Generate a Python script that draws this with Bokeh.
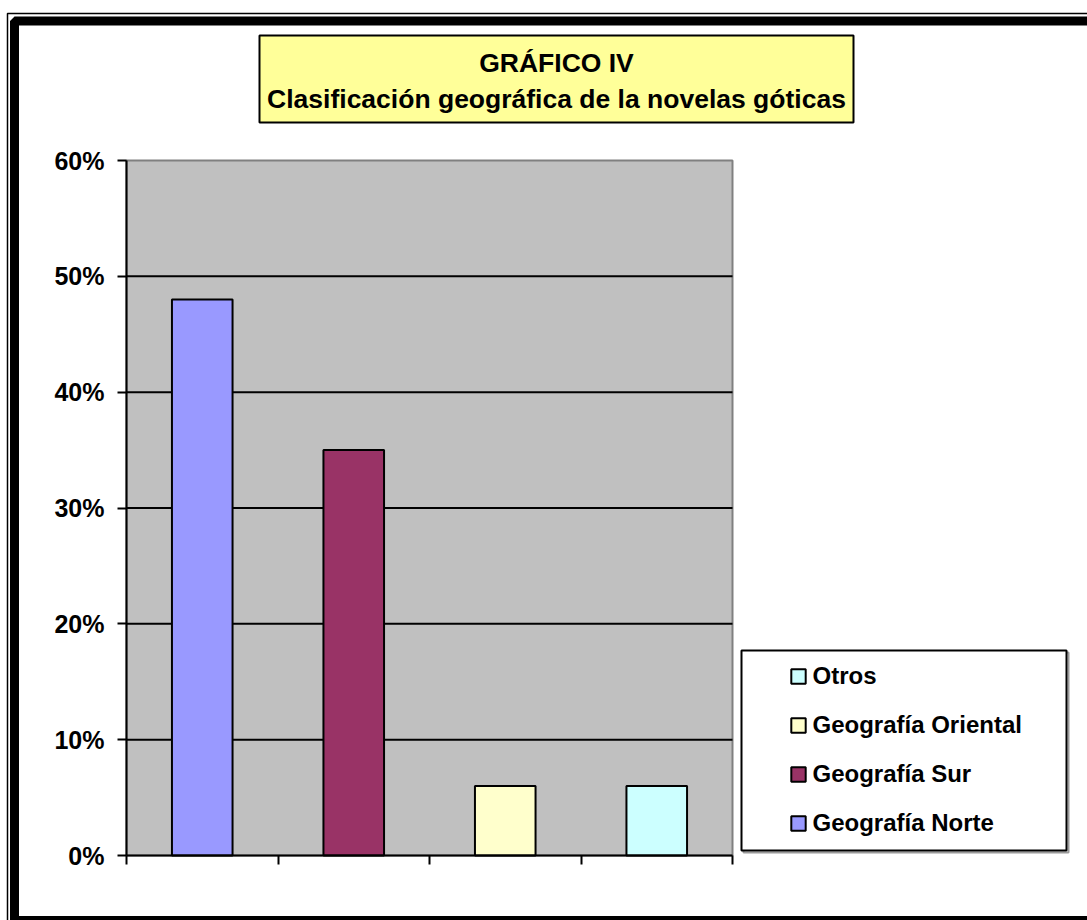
from bokeh.plotting import figure
from bokeh.models import (Range1d, FixedTicker, NumeralTickFormatter, BoxAnnotation, Label,
                          Legend, LegendItem, ColumnDataSource, CustomJSTickFormatter, LinearAxis)
from bokeh.embed import file_html
from bokeh.resources import INLINE

# ---- data ----
categories = ["Geografía Norte", "Geografía Sur", "Geografía Oriental", "Otros"]
values = [0.48, 0.35, 0.06, 0.06]
colors = ["#9999FF", "#993366", "#FFFFCC", "#CCFFFF"]
y_ticks = [0.0, 0.1, 0.2, 0.3, 0.4, 0.5, 0.6]
title_lines = ["GRÁFICO IV", "Clasificación geográfica de la novelas góticas"]

FONT = "Liberation Sans"
W, H = 1087, 920
# plot-area edges on the canvas (pixels)
PL, PR, PT, PB = 126, 732, 160, 855
n = len(categories)
YMAX = y_ticks[-1]

# the frame covers the whole canvas; ranges chosen so that the plot area sits at PL..PR / PT..PB
xpx = (PR - PL) / n
ypx = (PB - PT) / YMAX
x_range = Range1d(-PL / xpx, n + (W - PR) / xpx)
y_range = Range1d(-(H - PB) / ypx, YMAX + PT / ypx)

p = figure(width=W, height=H, output_backend="svg", toolbar_location=None,
           x_range=x_range, y_range=y_range, x_axis_type=None, y_axis_type=None,
           min_border=0)
p.background_fill_color = "white"
p.border_fill_color = "white"
p.outline_line_color = None
p.xgrid.visible = False
p.ygrid.visible = False


def scr(**kw):
    d = {}
    for k, v in kw.items():
        d[k] = v
        if k in ("left", "right", "top", "bottom"):
            d[k + "_units"] = "screen"
    return d

# plot-area background (data units) with grey top/right border
p.add_layout(BoxAnnotation(left=0, right=n, bottom=0, top=YMAX, level="image",
                           fill_color="#C0C0C0", fill_alpha=1,
                           line_color="#808080", line_alpha=1, line_width=2))

# horizontal grid lines across the plot area
grid_y = y_ticks[1:-1]
p.segment(x0=[0] * len(grid_y), x1=[n] * len(grid_y), y0=grid_y, y1=grid_y,
          line_color="black", line_width=2, level="underlay")

src = ColumnDataSource(dict(x=[i + 0.5 for i in range(n)], top=values, color=colors, cat=categories))
bars = p.vbar(x="x", top="top", width=0.4, source=src, fill_color="color",
              line_color="black", line_width=2)

# axes at fixed locations (take no panel space)
yaxis = LinearAxis(fixed_location=0, bounds=(0, YMAX), ticker=FixedTicker(ticks=y_ticks),
                   formatter=NumeralTickFormatter(format="0%"),
                   major_label_text_font=FONT, major_label_text_font_style="bold",
                   major_label_text_font_size="25px", major_label_text_color="black",
                   major_label_standoff=13, major_tick_out=9, major_tick_in=0,
                   minor_tick_line_color=None, axis_line_width=2, major_tick_line_width=2,
                   axis_line_color="black", major_tick_line_color="black")
p.add_layout(yaxis, "left")
xaxis = LinearAxis(fixed_location=0, bounds=(0, n), ticker=FixedTicker(ticks=list(range(n + 1))),
                   formatter=CustomJSTickFormatter(code="return ''"),
                   major_tick_out=9, major_tick_in=0, minor_tick_line_color=None,
                   axis_line_width=2, major_tick_line_width=2,
                   axis_line_color="black", major_tick_line_color="black")
p.add_layout(xaxis, "below")

# outer double frame (screen units: x from left, y from bottom)
p.add_layout(BoxAnnotation(**scr(left=7, right=1110, top=H - 13, bottom=-30),
                           fill_alpha=0, line_color="black", line_alpha=1, line_width=1.5))
p.add_layout(BoxAnnotation(**scr(left=14, right=1110, top=H - 20.5, bottom=0),
                           fill_alpha=0, line_color="black", line_alpha=1, line_width=9))

# title box
p.add_layout(BoxAnnotation(**scr(left=259, right=853, top=H - 35, bottom=H - 122),
                           fill_color="#FFFF99", fill_alpha=1,
                           line_color="black", line_alpha=1, line_width=2))
for ty, txt in zip([62, 98], title_lines):
    p.add_layout(Label(x=556, y=H - ty, x_units="screen", y_units="screen", text=txt,
                       text_align="center", text_baseline="middle", text_font=FONT,
                       text_font_style="bold", text_font_size="26.5px", text_color="black"))

# legend box (with small grey shadow)
p.add_layout(BoxAnnotation(**scr(left=743, right=1068, top=H - 652, bottom=H - 852),
                           fill_alpha=0, line_color="#9a9a9a", line_alpha=1, line_width=2))
p.add_layout(BoxAnnotation(**scr(left=741, right=1066, top=H - 650, bottom=H - 850),
                           fill_color="white", fill_alpha=1,
                           line_color="black", line_alpha=1, line_width=2))

items = [LegendItem(label=categories[i], renderers=[bars], index=i) for i in reversed(range(n))]
legend = Legend(items=items, location=(788.5, H - 837.5), orientation="vertical",
                border_line_color=None, background_fill_alpha=0,
                label_text_font=FONT, label_text_font_style="bold", label_text_font_size="24px",
                label_text_color="black",
                glyph_width=18, glyph_height=18, label_standoff=6, label_height=30,
                spacing=19, padding=0, margin=0)
p.add_layout(legend, "center")

open("out.html", "w").write(file_html(p, INLINE))
